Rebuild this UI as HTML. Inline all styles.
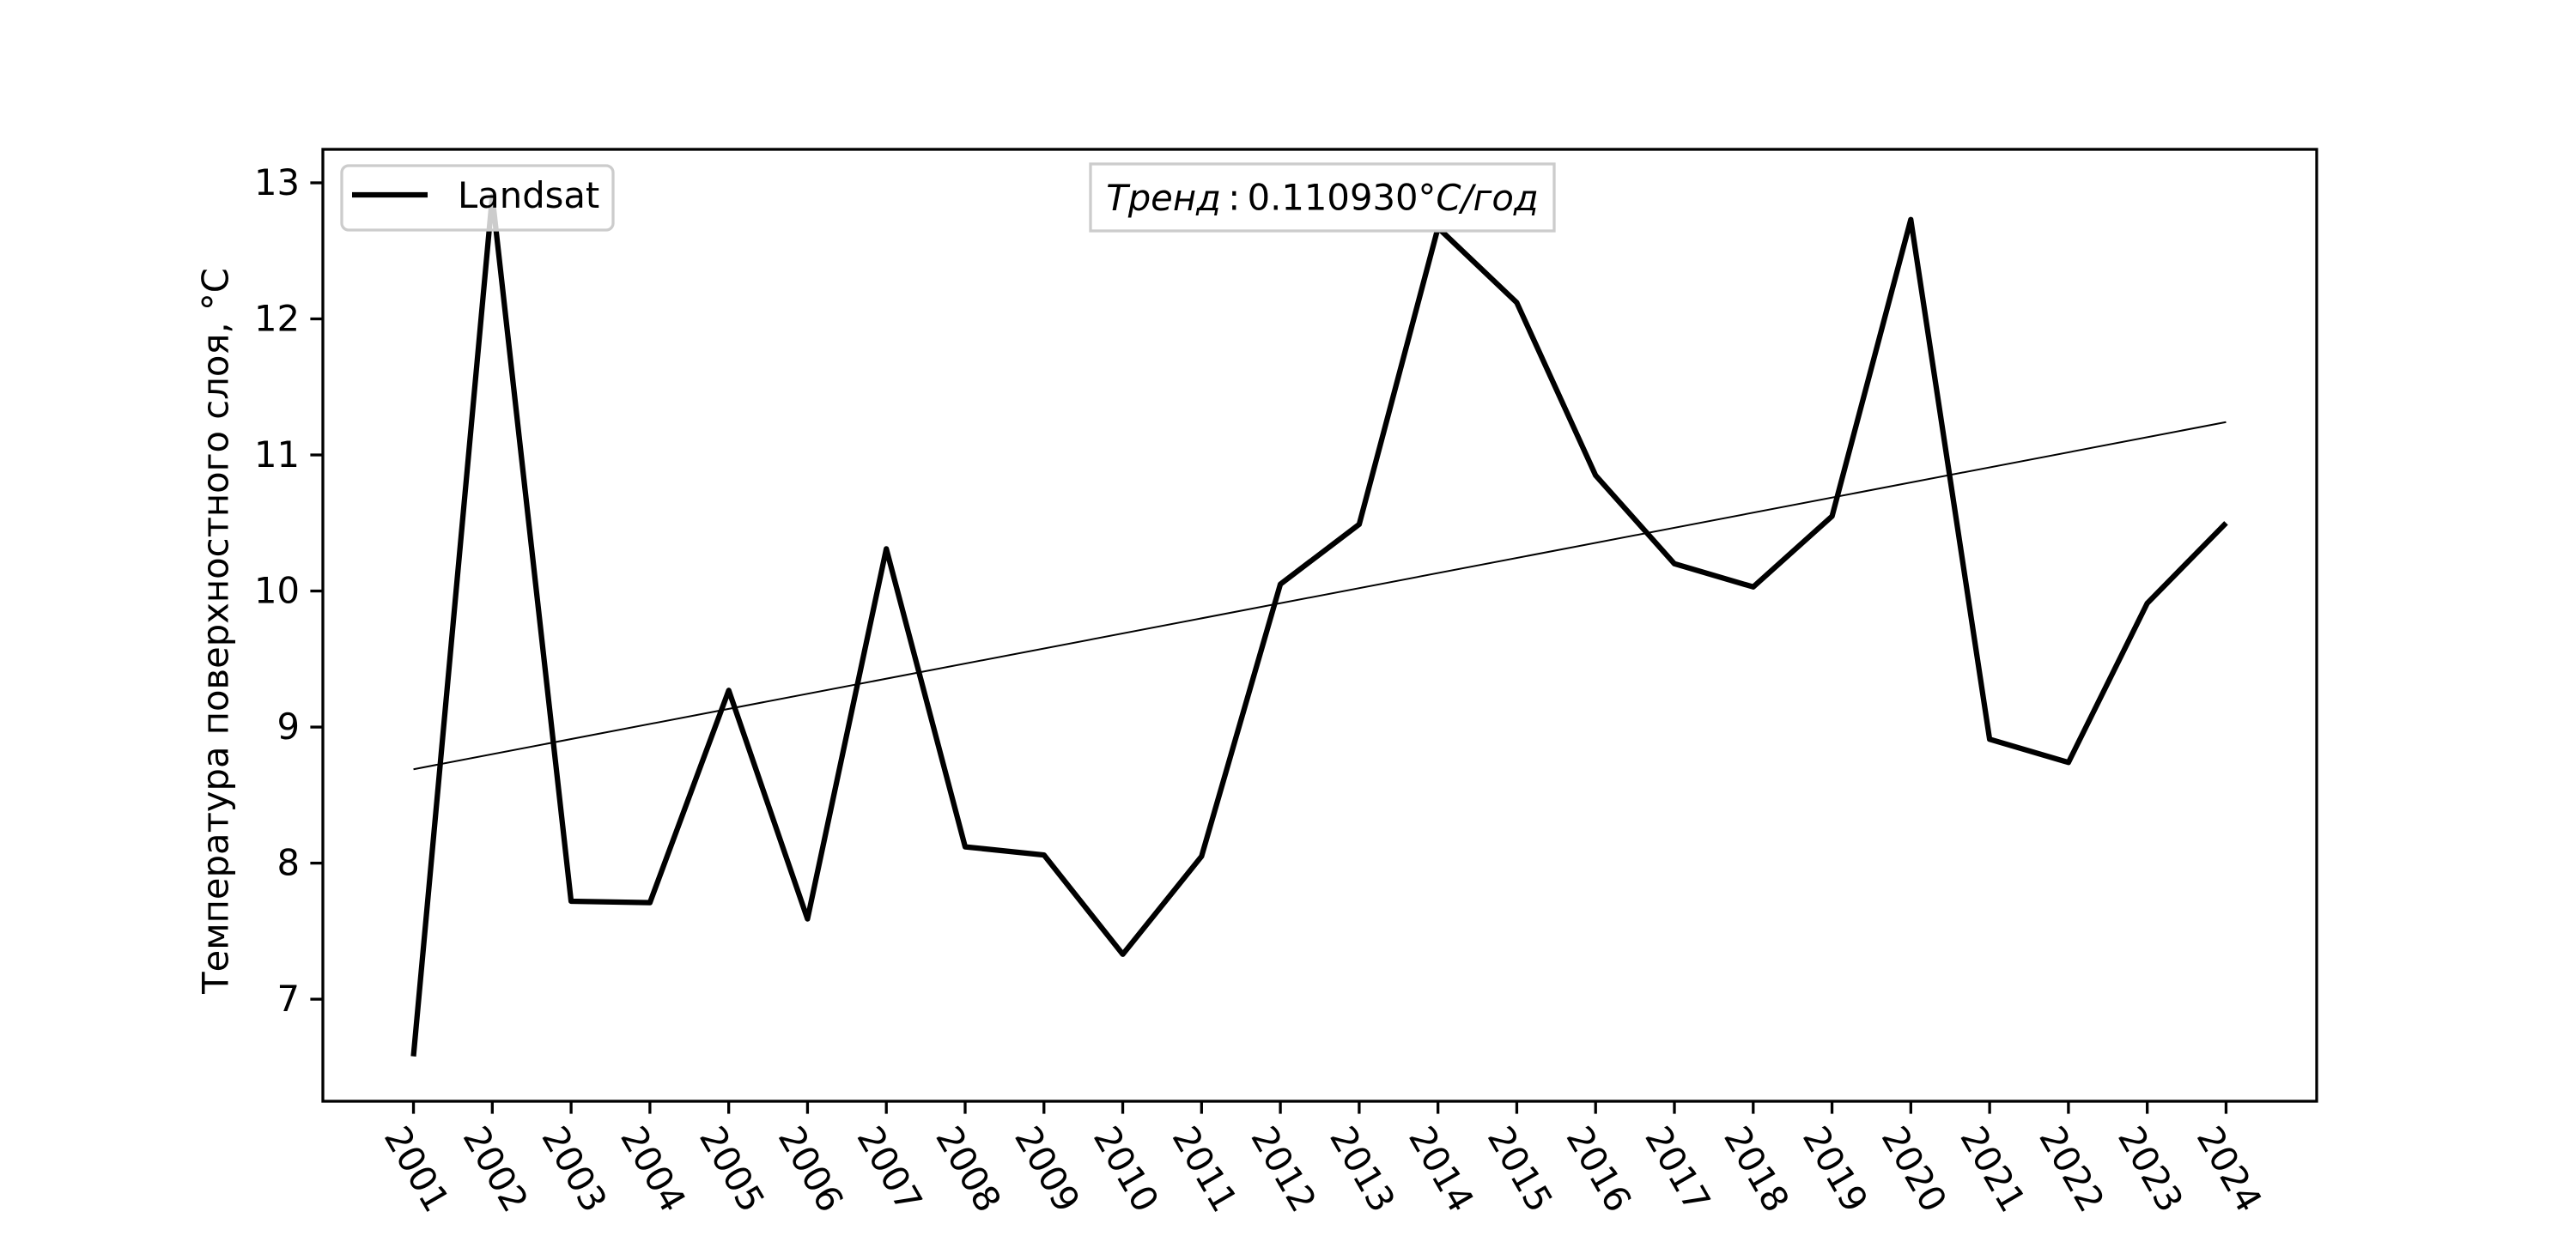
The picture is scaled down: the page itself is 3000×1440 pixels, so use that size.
<!DOCTYPE html>
<html><head><meta charset="utf-8"><style>
html,body{margin:0;padding:0;background:#fff;}
svg{display:block;font-family:"DejaVu Sans","Liberation Sans",sans-serif;}
</style></head><body>
<svg id="chart" width="3000" height="1440" viewBox="0 0 3000 1440" xmlns="http://www.w3.org/2000/svg">
<rect width="3000" height="1440" fill="#fff"/>
<g id="plot"></g>
</svg>
<script>
const years = [2001,2002,2003,2004,2005,2006,2007,2008,2009,2010,2011,2012,2013,2014,2015,2016,2017,2018,2019,2020,2021,2022,2023,2024];
const temps = [6.58,12.9,7.72,7.71,9.27,7.59,10.31,8.12,8.06,7.33,8.05,10.05,10.49,12.67,12.12,10.85,10.2,10.03,10.55,12.73,8.91,8.74,9.91,10.5];
const yTicks = [7,8,9,10,11,12,13];
const trendSlope = [0.110930];
const trendStart = [8.69];

const NS="http://www.w3.org/2000/svg";
const g=document.getElementById('plot');
const L=376,R=2698,T=174,B=1283;
const x0=years[0], xn=years[years.length-1];
const pad=(xn-x0)*0.05;
const xmin=x0-pad,xmax=xn+pad;
const ymin=6.25,ymax=13.246;
function X(v){return L+(v-xmin)/(xmax-xmin)*(R-L);}
function Y(v){return B-(v-ymin)/(ymax-ymin)*(B-T);}
function el(t,a){const e=document.createElementNS(NS,t);for(const k in a)e.setAttribute(k,a[k]);g.appendChild(e);return e;}

const tr=el('line',{x1:X(x0),y1:Y(trendStart[0]),x2:X(xn),y2:Y(trendStart[0]+trendSlope[0]*(xn-x0)),stroke:'#000','stroke-width':2});



const pts=years.map((y,i)=>X(y).toFixed(1)+','+Y(temps[i]).toFixed(1)).join(' ');
const pl=el('polyline',{points:pts,fill:'none',stroke:'#000','stroke-width':6.25,'stroke-linejoin':'round'});



const fr=el('rect',{x:L,y:T,width:R-L,height:B-T,fill:'none',stroke:'#000','stroke-width':3.3});



yTicks.forEach(v=>{
  const t=el('line',{x1:L-14.6,x2:L,y1:Y(v),y2:Y(v),stroke:'#000','stroke-width':3.3});
  
  
  const tx=el('text',{x:L-27,y:Y(v)+14,'text-anchor':'end','font-size':41.7,fill:'#000'});
  tx.textContent=v;
  
  
});
years.forEach(v=>{
  const t=el('line',{x1:X(v),x2:X(v),y1:B,y2:B+14.6,stroke:'#000','stroke-width':3.3});
  
  
  const cx=X(v)+4, cy=1362;
  const tx=el('text',{x:cx,y:cy,'text-anchor':'middle','dominant-baseline':'central','font-size':41.7,fill:'#000',transform:`rotate(60 ${cx} ${cy})`});
  tx.textContent=v;
  
  
});

const yt=el('text',{x:251,y:735,'text-anchor':'middle','dominant-baseline':'central','font-size':41.7,fill:'#000',transform:'rotate(-90 251 735)'});
yt.textContent='Температура поверхностного слоя, °C';



const lb=el('rect',{x:398,y:193,width:316,height:75,rx:8,fill:'#fff','fill-opacity':0.8,stroke:'#ccc','stroke-width':3.3});


const ll=el('line',{x1:410,x2:498,y1:227,y2:227,stroke:'#000','stroke-width':6.25});


const lt=el('text',{x:533,y:242,'font-size':41.7,fill:'#000'});
lt.textContent='Landsat';



const tb=el('rect',{x:1270,y:191,width:540,height:78,fill:'#fff',stroke:'#ccc','stroke-width':3.3});


const tt=el('text',{x:1540,y:230,'text-anchor':'middle','dominant-baseline':'central','font-size':41.7,fill:'#000'});
tt.innerHTML='<tspan font-style="italic">Тренд</tspan>\u2009:\u20090.110930°<tspan font-style="italic">C/год</tspan>';


</script>
</body></html>
